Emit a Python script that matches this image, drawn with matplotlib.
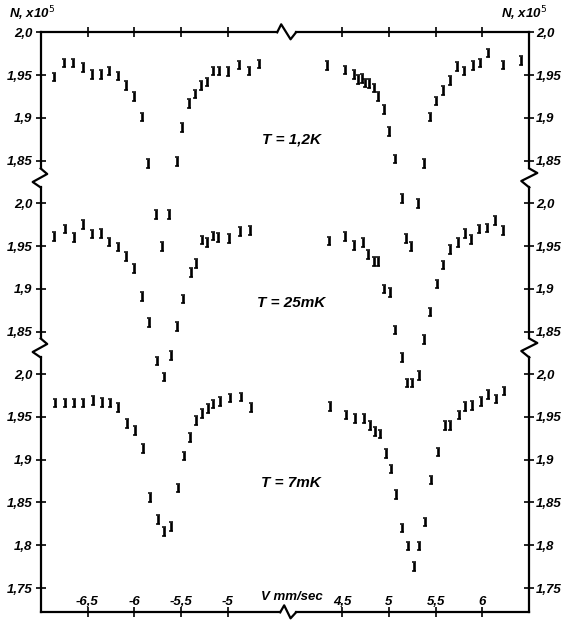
import matplotlib
matplotlib.use('Agg')
import matplotlib.pyplot as plt
from matplotlib.lines import Line2D

plt.rcParams['font.family'] = ['Liberation Sans Narrow', 'Liberation Sans', 'DejaVu Sans']

# ---- data (velocity mm/sec, counts N x10^5) ----
v_12K_neg = [-6.858, -6.75, -6.655, -6.545, -6.449, -6.36, -6.267, -6.177, -6.092, -6.006,
             -5.921, -5.85, -5.768, -5.701, -5.626, -5.547, -5.49, -5.416, -5.35, -5.29,
             -5.227, -5.156, -5.095, -4.995, -4.881, -4.771, -4.665]
n_12K_neg = [1.948, 1.964, 1.964, 1.959, 1.951, 1.951, 1.955, 1.949, 1.938, 1.925,
             1.901, 1.847, 1.787, 1.750, 1.787, 1.849, 1.889, 1.917, 1.928, 1.938,
             1.942, 1.955, 1.955, 1.954, 1.962, 1.955, 1.963]
v_12K_pos = [4.34, 4.529, 4.625, 4.668, 4.714, 4.746, 4.788, 4.842, 4.885, 4.946,
             5.002, 5.07, 5.135, 5.188, 5.241, 5.316, 5.373, 5.437, 5.508, 5.579,
             5.658, 5.729, 5.803, 5.896, 5.971, 6.06, 6.214, 6.406]
n_12K_pos = [1.961, 1.956, 1.951, 1.945, 1.946, 1.941, 1.940, 1.935, 1.925, 1.910,
             1.884, 1.852, 1.806, 1.759, 1.750, 1.800, 1.847, 1.901, 1.920, 1.932,
             1.944, 1.960, 1.955, 1.961, 1.964, 1.976, 1.962, 1.967]

v_25mK_neg = [-6.858, -6.74, -6.644, -6.551, -6.449, -6.36, -6.267, -6.177, -6.089, -6.003,
              -5.921, -5.843, -5.761, -5.683, -5.611, -5.547, -5.477, -5.397, -5.341, -5.28,
              -5.22, -5.156, -5.103, -4.988, -4.871, -4.764]
n_25mK_neg = [1.961, 1.970, 1.960, 1.975, 1.964, 1.965, 1.955, 1.949, 1.938, 1.924,
              1.891, 1.861, 1.816, 1.797, 1.822, 1.856, 1.888, 1.919, 1.930, 1.957,
              1.954, 1.962, 1.960, 1.959, 1.967, 1.968]
v_25mK_pos = [4.358, 4.536, 4.625, 4.724, 4.778, 4.839, 4.885, 4.949, 5.01, 5.07,
              5.135, 5.194, 5.248, 5.323, 5.373, 5.444, 5.515, 5.579, 5.658, 5.733,
              5.811, 5.882, 5.963, 6.049, 6.131, 6.219]
n_25mK_pos = [1.956, 1.961, 1.951, 1.954, 1.940, 1.932, 1.932, 1.900, 1.896, 1.852,
              1.820, 1.790, 1.790, 1.799, 1.841, 1.873, 1.906, 1.928, 1.946, 1.954,
              1.965, 1.958, 1.970, 1.971, 1.980, 1.968]

v_7mK_neg = [-6.847, -6.74, -6.644, -6.545, -6.438, -6.349, -6.26, -6.171, -6.081, -5.992,
             -5.91, -5.832, -5.75, -5.683, -5.611, -5.536, -5.466, -5.405, -5.341, -5.274,
             -5.21, -5.156, -5.085, -4.978, -4.863, -4.756]
n_7mK_neg = [1.966, 1.966, 1.966, 1.966, 1.969, 1.967, 1.966, 1.961, 1.942, 1.934,
             1.913, 1.856, 1.830, 1.816, 1.822, 1.867, 1.904, 1.926, 1.946, 1.954,
             1.960, 1.965, 1.968, 1.972, 1.973, 1.961]
v_7mK_pos = [4.369, 4.54, 4.636, 4.732, 4.796, 4.85, 4.903, 4.967, 5.021, 5.081,
             5.141, 5.199, 5.266, 5.323, 5.384, 5.455, 5.526, 5.597, 5.658, 5.747,
             5.818, 5.889, 5.979, 6.06, 6.139, 6.228]
n_7mK_pos = [1.962, 1.952, 1.948, 1.948, 1.940, 1.933, 1.930, 1.907, 1.889, 1.859,
             1.820, 1.799, 1.775, 1.799, 1.827, 1.876, 1.909, 1.940, 1.940, 1.952,
             1.962, 1.963, 1.968, 1.976, 1.971, 1.980]

n_err = 0.005

rows = [
    ((v_12K_neg, n_12K_neg), (v_12K_pos, n_12K_pos), 'T = 1,2K'),
    ((v_25mK_neg, n_25mK_neg), (v_25mK_pos, n_25mK_pos), 'T = 25mK'),
    ((v_7mK_neg, n_7mK_neg), (v_7mK_pos, n_7mK_pos), 'T = 7mK'),
]

y_ticks_short = [2.0, 1.95, 1.9, 1.85]
y_labels_short = ['2,0', '1,95', '1,9', '1,85']
y_ticks_long = [2.0, 1.95, 1.9, 1.85, 1.8, 1.75]
y_labels_long = ['2,0', '1,95', '1,9', '1,85', '1,8', '1,75']
x_ticks = [[-6.5, -6.0, -5.5, -5.0], [4.5, 5.0, 5.5, 6.0]]
x_labels = [['-6,5', '-6', '-5,5', '-5'], ['4,5', '5', '5,5', '6']]

# ---- layout (pixels) ----
W, H = 562, 620
x_ranges = [(-7.0, -4.42), (3.96, 6.5)]
y_ranges = [(1.8298, 2.0), (1.831, 2.0296), (1.7216, 2.0304)]
PX_V, PX_N = 93.6, 856.0
LEFT, RIGHT, TOP = 40.7, 529.3, 32.3
LW = 1.6
label_font = dict(fontsize=9.5, fontweight='bold', fontstyle='italic')

fig = plt.figure(figsize=(W / 100, H / 100), dpi=100, facecolor='white')

col_x = [LEFT, RIGHT - (x_ranges[1][1] - x_ranges[1][0]) * PX_V]
col_w = [(r[1] - r[0]) * PX_V for r in x_ranges]
row_top = []
t = TOP
for r in y_ranges:
    row_top.append(t)
    t += (r[1] - r[0]) * PX_N
row_h = [(r[1] - r[0]) * PX_N for r in y_ranges]
bounds_y = [row_top[1], row_top[2]]


def fig_line(xs, ys):
    fig.add_artist(Line2D([x / W for x in xs], [1 - y / H for y in ys],
                          transform=fig.transFigure, color='black', lw=LW))


gap = 9.5
for i, (neg, pos, ttl) in enumerate(rows):
    for j, (vv, nn) in enumerate([neg, pos]):
        ax = fig.add_axes([col_x[j] / W, 1 - (row_top[i] + row_h[i]) / H,
                           col_w[j] / W, row_h[i] / H])
        ax.set_facecolor('none')
        ax.set_xlim(*x_ranges[j])
        ax.set_ylim(*y_ranges[i])
        for s in ax.spines.values():
            s.set_visible(False)
            s.set_linewidth(LW)

        ax.errorbar(vv, nn, yerr=n_err, fmt='none', ecolor='black', elinewidth=1.9,
                    capsize=1.4, capthick=1.1, clip_on=False)

        # vertical side (with breaks)
        ylo, yhi = y_ranges[i]
        lo = ylo if i == 2 else ylo + gap / PX_N
        hi = yhi if i == 0 else yhi - gap / PX_N
        side = 'left' if j == 0 else 'right'
        ax.spines[side].set_visible(True)
        ax.spines[side].set_bounds(lo, hi)
        yt = y_ticks_long if i == 2 else y_ticks_short
        yl = y_labels_long if i == 2 else y_labels_short
        ax.set_yticks(yt, yl, **label_font)
        if j == 0:
            ax.yaxis.set_ticks_position('left')
            ax.tick_params(axis='y', direction='inout', length=7, width=1.2, pad=2.5)
        else:
            ax.yaxis.set_ticks_position('right')
            ax.tick_params(axis='y', direction='inout', length=7, width=1.2, pad=1.5)

        # horizontal sides
        xlo, xhi = x_ranges[j]
        if i == 0:
            ax.spines['top'].set_visible(True)
            if j == 0:
                ax.spines['top'].set_bounds(xlo, xhi - 5 / PX_V)
            else:
                ax.spines['top'].set_bounds(xlo + 4.5 / PX_V, xhi)
            ax.set_xticks(x_ticks[j], ['' for _ in x_ticks[j]])
            ax.xaxis.set_ticks_position('top')
            ax.tick_params(axis='x', direction='inout', length=7, width=1.2)
        elif i == 2:
            ax.spines['bottom'].set_visible(True)
            if j == 0:
                ax.spines['bottom'].set_bounds(xlo, xhi - 2 / PX_V)
            else:
                ax.spines['bottom'].set_bounds(xlo + 4.5 / PX_V, xhi)
            ax.set_xticks(x_ticks[j], x_labels[j], **label_font)
            ax.xaxis.set_ticks_position('bottom')
            ax.tick_params(axis='x', direction='inout', length=7, width=1.2, pad=-15)
        else:
            ax.set_xticks([])

    fig.text(291 / W, 1 - [140, 303, 483][i] / H, ttl, ha='center', va='center',
             fontsize=11, fontweight='bold', fontstyle='italic')

# break marks on the vertical axes
for b in bounds_y:
    fig_line([LEFT, LEFT + 6.5, LEFT - 8, LEFT], [b - gap, b - 4, b + 4, b + gap])
    fig_line([RIGHT, RIGHT + 8, RIGHT - 8, RIGHT], [b - gap, b - 5, b + 3, b + gap])

# break marks on the horizontal axes
x_end = col_x[0] + col_w[0]
x_start = col_x[1]
fig_line([x_end - 5, x_end - 1, x_start - 1, x_start + 4.5], [TOP, TOP - 8, TOP + 7, TOP])
BOT = row_top[2] + row_h[2]
fig_line([x_end - 2, x_end + 2, x_start - 1, x_start + 4.5], [BOT, BOT - 7, BOT + 6, BOT])

fig.text(32 / W, 1 - 14 / H, r'N, x10$^5$', ha='center', va='center', **label_font)
fig.text(524 / W, 1 - 14 / H, r'N, x10$^5$', ha='center', va='center', **label_font)
fig.text(292 / W, 1 - 597 / H, 'V mm/sec', ha='center', va='center', **label_font)

fig.savefig('out.png', dpi=100, facecolor='white')
